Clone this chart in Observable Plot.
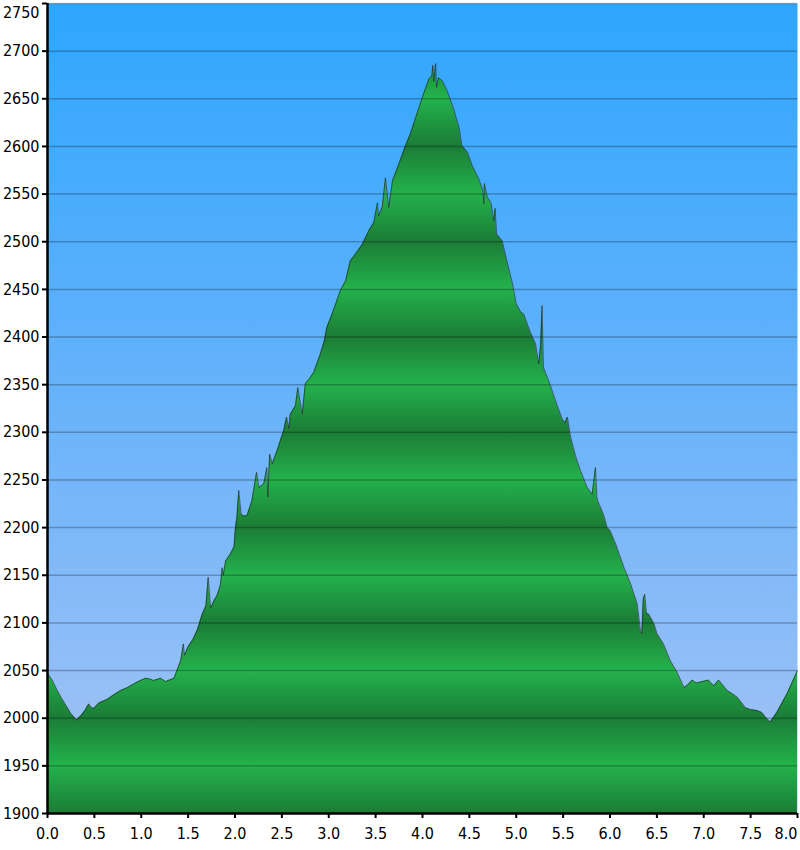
<!DOCTYPE html>
<html><head><meta charset="utf-8">
<script src="https://cdn.jsdelivr.net/npm/d3@7"></script>
<script src="https://cdn.jsdelivr.net/npm/@observablehq/plot@0.6"></script>
<style>body{margin:0;background:#fff}</style>
</head><body><div id="chart"></div>
<script>
const distanceKm = [0.00,0.05,0.10,0.15,0.20,0.25,0.31,0.36,0.40,0.44,0.46,0.49,0.55,0.64,0.70,0.78,0.85,0.92,0.98,1.045,1.10,1.13,1.205,1.26,1.30,1.35,1.38,1.42,1.45,1.46,1.50,1.554,1.60,1.65,1.69,1.714,1.74,1.78,1.81,1.845,1.863,1.875,1.90,1.95,1.99,2.005,2.02,2.04,2.066,2.10,2.13,2.18,2.23,2.254,2.28,2.307,2.34,2.35,2.37,2.397,2.45,2.52,2.55,2.574,2.59,2.645,2.67,2.717,2.75,2.80,2.84,2.91,2.95,2.98,3.05,3.125,3.18,3.23,3.27,3.357,3.43,3.48,3.52,3.53,3.57,3.605,3.64,3.68,3.75,3.82,3.87,3.94,4.00,4.07,4.10,4.11,4.12,4.13,4.14,4.15,4.17,4.21,4.26,4.33,4.39,4.42,4.48,4.53,4.60,4.64,4.655,4.66,4.69,4.73,4.76,4.775,4.79,4.85,4.90,4.96,5.00,5.05,5.08,5.15,5.205,5.22,5.24,5.26,5.275,5.29,5.35,5.42,5.49,5.52,5.545,5.58,5.63,5.685,5.757,5.81,5.845,5.86,5.87,5.93,5.97,6.00,6.06,6.15,6.22,6.29,6.325,6.34,6.355,6.37,6.39,6.415,6.47,6.50,6.57,6.645,6.717,6.79,6.84,6.877,6.92,6.966,7.05,7.107,7.16,7.25,7.30,7.357,7.445,7.50,7.57,7.62,7.66,7.71,7.78,7.89,8.00];
const elevationM = [2047,2040,2030,2021,2013,2005,1998,2003,2008,2015,2012,2010,2016,2020,2024,2029,2032,2036,2039,2042,2041,2039.6,2042,2038.5,2040,2042,2050,2060,2078,2066,2075,2083,2093,2109,2118,2148,2116,2124,2129,2140,2158,2150,2165,2172,2180,2200,2210,2239,2214,2212,2213,2228,2258,2242,2244,2246,2263,2232,2277,2267,2281,2302,2316,2304,2319,2328,2347,2319,2351,2357,2363,2382,2395,2410,2428,2449,2459,2480,2485,2497,2512,2520,2541,2527,2536,2567,2536,2564,2582,2601,2613,2634,2652,2671,2674,2685,2668,2676,2687,2662,2672,2669,2659,2640,2620,2601,2594,2580,2566,2555,2540,2561,2547,2541,2522,2535,2508,2501,2480,2456,2435,2426,2424,2405,2393,2384,2372,2391,2433,2368,2353,2333,2314,2310,2316,2295,2276,2260,2242,2235,2263,2232,2228,2214,2200,2197,2183,2158,2141,2120,2092,2089,2125,2130,2110,2109,2099,2089,2078,2060,2048,2032,2036,2040,2037,2038,2040,2034,2040,2029,2026,2022,2011,2009,2008,2006,2001,1996,2006,2026,2050];
const yTicks = d3.range(1900, 2751, 50);
const xTicks = d3.range(0, 16.5, 1).map(d => d / 2);

const profile = distanceKm.map((d, i) => ({km: d, ele: elevationM[i]}));
const FONT = 16;

const chart = Plot.plot({
  width: 800, height: 850,
  marginLeft: 47, marginRight: 3, marginTop: 3, marginBottom: 37,
  style: {fontFamily: "'DejaVu Sans Condensed','DejaVu Sans',sans-serif", fontSize: FONT + "px", color: "#000", background: "#fff"},
  x: {domain: [0, 8]},
  y: {domain: [1900, 2750]},
  marks: [
    Plot.frame({fill: "url(#skyGrad)", stroke: null}),
    Plot.areaY(profile, {x: "km", y1: 1900, y2: "ele", fill: "url(#bandGrad)"}),
    Plot.ruleY(yTicks.slice(1), {stroke: "#000", strokeOpacity: 0.25, strokeWidth: 1.5}),
    Plot.lineY(profile, {x: "km", y: "ele", stroke: "#222", strokeOpacity: 0.6, strokeWidth: 1}),
    Plot.axisY({ticks: yTicks, tickSize: 5, tickPadding: 3, strokeWidth: 2, fontSize: FONT,
      tickFormat: d => d === 2750 ? "" : String(d), label: null}),
    Plot.text([2750], {x: 0, y: d => d, text: d => String(d), textAnchor: "end", dx: -8, dy: 9, fontSize: FONT}),
    Plot.axisX({ticks: xTicks, tickSize: 5, tickPadding: 9, strokeWidth: 2, fontSize: FONT,
      tickFormat: d => d === 8 ? "" : d3.format(".1f")(d), label: null}),
    Plot.text([8], {x: d => d, y: 1900, text: d => d3.format(".1f")(d), textAnchor: "end", lineAnchor: "top", dy: 14, fontSize: FONT}),
    Plot.ruleX([0], {stroke: "#000", strokeWidth: 2.5}),
    Plot.ruleY([1900], {stroke: "#000", strokeWidth: 2.5})
  ]
});

const ys = chart.scale("y");
const svg = d3.select(chart);
const defs = svg.insert("defs", ":first-child");
const sky = defs.append("linearGradient").attr("id", "skyGrad").attr("x1", 0).attr("y1", 0).attr("x2", 0).attr("y2", 1);
sky.append("stop").attr("offset", 0).attr("stop-color", "#2ea6fe");
sky.append("stop").attr("offset", 0.5).attr("stop-color", "#69b3fa");
sky.append("stop").attr("offset", 1).attr("stop-color", "#a8c4f5");
const band = defs.append("linearGradient").attr("id", "bandGrad")
  .attr("gradientUnits", "userSpaceOnUse").attr("spreadMethod", "repeat")
  .attr("x1", 0).attr("x2", 0).attr("y1", ys.apply(2000)).attr("y2", ys.apply(1900));
band.append("stop").attr("offset", 0).attr("stop-color", "#1b7c36");
band.append("stop").attr("offset", 0.5).attr("stop-color", "#24b24c");
band.append("stop").attr("offset", 1).attr("stop-color", "#1b7c36");

document.getElementById("chart").appendChild(chart);
</script>
</body></html>
